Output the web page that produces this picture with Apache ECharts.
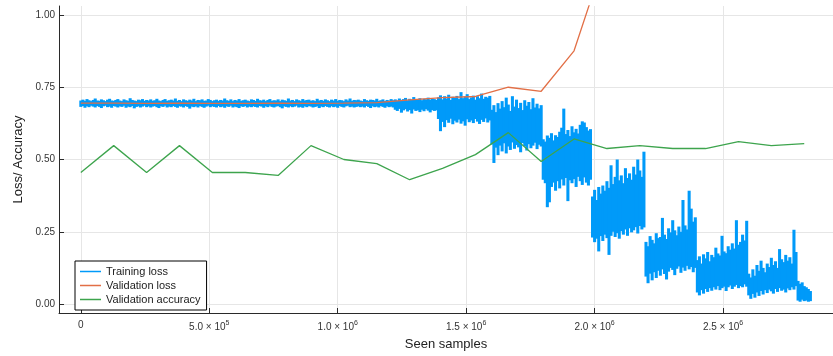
<!DOCTYPE html>
<html>
<head>
<meta charset="utf-8">
<script src="https://cdn.jsdelivr.net/npm/echarts@6/dist/echarts.min.js"></script>
<style>
  html, body { margin: 0; padding: 0; background: #fff; }
  #chart { width: 833px; height: 356px; }
</style>
</head>
<body>
<div id="chart"></div>
<script>
// training loss: min / max of the logged loss in each bucket of 8000 seen samples
const trainStep = 8000;
const trainMax = [
  // epochs 1-6
  .704,.707,.703,.709,.705,.702,.706,.711,.704,.703,.708,.705,.702,.707,.710,.704,.703,
  .706,.709,.704,.702,.708,.705,.703,.712,.706,.704,.702,.707,.705,.709,.703,.706,.704,
  .708,.703,.705,.710,.704,.702,.706,.709,.703,.705,.707,.704,.711,.703,.706,.702,.708,
  .705,.703,.707,.704,.710,.702,.706,.705,.708,.703,.704,.709,.706,.702,.705,.707,.703,
  .706,.704,.711,.705,.703,.708,.702,.706,.704,.709,.703,.705,.707,.704,.702,.708,.706,
  .703,.710,.705,.704,.707,.702,.706,.709,.703,.705,.704,.708,.702,.707,.705,.703,.711,
  .704,.706,.702,.708,.705,.703,.709,.704,.706,.707,.703,.705,.702,.710,.704,.706,.703,
  .708,.705,.702,.707,.704,.709,.703,.706,.705,.702,.708,.704,.711,.703,.706,.705,.707,
  .704,.702,.709,.705,.703,.707,.706,.704,.710,.703,.705,.708,.702,.706,.704,.709,.705,
  // epoch 7
  .708,.704,.711,.706,.709,.713,.705,.710,.707,.716,.706,.709,.712,.705,.710,.708,.714,.707,.711,.709,.706,
  // epoch 8
  .715,.722,.708,.719,.711,.724,.706,.717,.713,.720,.709,.733,.712,.718,.726,.709,.715,.721,.707,.719,
  .712,.728,.710,.717,.714,.720,
  // epoch 9
  .672,.688,.664,.695,.676,.702,.681,.714,.690,.668,.719,.683,.707,.678,.696,.671,.705,.686,.699,.674,
  .712,.680,.693,.677,.688,
  // epoch 10
  .570,.562,.583,.575,.591,.566,.584,.578,.596,.610,.676,.588,.602,.581,.615,.594,.606,.590,.620,.632,
  .628,.612,.600,.605,
  // epoch 11
  .372,.395,.360,.405,.382,.410,.392,.425,.402,.480,.415,.440,.500,.428,.445,.418,.470,.436,.452,.430,
  .475,.448,.500,.462,.440,.527,
  // epoch 12
  .215,.200,.235,.222,.210,.245,.228,.232,.298,.240,.225,.262,.248,.290,.255,.238,.268,.250,.360,.272,
  .258,.392,.330,.285,.300,
  // epoch 13
  .152,.165,.140,.172,.158,.180,.148,.170,.162,.195,.175,.168,.236,.182,.176,.200,.188,.210,.192,.290,
  .205,.215,.240,.220,.288,
  // epoch 14
  .105,.092,.120,.098,.135,.115,.150,.125,.110,.140,.128,.160,.135,.148,.125,.190,.155,.145,.170,.150,
  .162,.140,.257,.180,
  // epoch 15 (partial)
  .080,.070,.075,.062,.058,.052,.045
];
const trainMin = [
  // epochs 1-6
  .682,.685,.679,.684,.681,.686,.683,.680,.685,.682,.678,.684,.686,.681,.683,.679,.685,
  .683,.680,.684,.682,.686,.679,.683,.681,.685,.677,.682,.684,.680,.683,.686,.681,.684,
  .680,.683,.685,.681,.678,.684,.682,.686,.680,.683,.681,.685,.682,.679,.684,.683,.680,
  .685,.682,.676,.683,.681,.684,.680,.685,.682,.679,.683,.686,.681,.684,.682,.680,.685,
  .681,.683,.679,.684,.682,.686,.680,.683,.681,.678,.684,.682,.685,.680,.683,.681,.684,
  .682,.680,.685,.683,.679,.684,.681,.686,.682,.680,.683,.685,.681,.677,.684,.682,.680,
  .684,.681,.683,.686,.680,.682,.679,.684,.681,.685,.683,.680,.682,.684,.678,.683,.681,
  .685,.682,.680,.684,.681,.683,.679,.685,.682,.680,.684,.686,.681,.683,.680,.682,.684,
  .681,.683,.680,.685,.682,.678,.684,.681,.683,.680,.685,.682,.679,.684,.681,.683,.680,
  // epoch 7
  .672,.668,.675,.662,.670,.674,.666,.671,.659,.673,.668,.670,.664,.672,.667,.674,.669,.663,.671,.668,.670,
  // epoch 8
  .640,.598,.630,.612,.636,.627,.641,.622,.634,.628,.638,.624,.632,.617,.639,.629,.635,.626,.640,.631,
  .623,.637,.630,.642,.628,.635,
  // epoch 9
  .552,.488,.541,.515,.548,.528,.556,.521,.545,.533,.559,.537,.550,.542,.525,.557,.546,.531,.553,.539,
  .548,.558,.536,.551,.545,
  // epoch 10
  .430,.418,.335,.352,.405,.420,.392,.425,.400,.431,.410,.436,.356,.428,.418,.432,.405,.440,.425,.412,
  .438,.420,.410,.430,
  // epoch 11
  .230,.214,.226,.182,.235,.218,.240,.228,.170,.236,.250,.232,.245,.226,.252,.240,.258,.236,.262,.248,
  .255,.266,.244,.270,.258,.265,
  // epoch 12
  .095,.072,.105,.082,.110,.090,.115,.098,.120,.104,.085,.112,.125,.118,.100,.122,.130,.108,.126,.115,
  .132,.120,.128,.110,.125,
  // epoch 13
  .040,.030,.048,.036,.052,.042,.055,.046,.058,.050,.062,.048,.055,.060,.045,.058,.064,.052,.060,.066,
  .055,.062,.058,.068,.060,
  // epoch 14
  .030,.018,.035,.022,.040,.028,.045,.033,.048,.038,.050,.044,.036,.052,.042,.055,.046,.050,.040,.054,
  .048,.058,.050,.062,
  // epoch 15 (partial)
  .012,.008,.015,.010,.012,.008,.010
];

const evalSamples = [
  0, 128000, 256000, 384000, 512000, 640000, 768000, 896000, 1024000, 1152000, 1280000, 1408000,
  1536000, 1664000, 1792000, 1920000, 2048000, 2176000, 2304000, 2432000, 2560000, 2688000, 2816000
];
const valLoss = [
  0.695, 0.695, 0.694, 0.695, 0.694, 0.694, 0.695, 0.694, 0.695, 0.697, 0.706, 0.714,
  0.718, 0.750, 0.736, 0.876, 1.22, 1.35, 1.42, 1.55, 1.61, 1.70, 1.78
];
const valAcc = [
  0.455, 0.548, 0.455, 0.548, 0.455, 0.455, 0.445, 0.548, 0.500, 0.486, 0.430, 0.469,
  0.517, 0.593, 0.493, 0.571, 0.538, 0.548, 0.538, 0.538, 0.562, 0.548, 0.555
];
const yTicks = [0, 0.25, 0.5, 0.75, 1];
const xTicks = [0, 500000, 1000000, 1500000, 2000000, 2500000];

const FONT = '"Liberation Sans", Arial, sans-serif';
const gridColor = '#e6e6e6';
const axisColor = '#2a2a2a';
const blue = '#009af9';
const orange = '#e26f46';
const green = '#3da44d';

const chart = echarts.init(document.getElementById('chart'));

function sciLabel(v) {
  if (v === 0) return '0';
  const exp = Math.floor(Math.log10(v));
  const m = (v / Math.pow(10, exp)).toFixed(1);
  return m + ' × 10{sup|' + exp + '}';
}

// one thin column per bucket, from its min to its max
function renderBucket(params, api) {
  const x = api.value(0);
  const top = api.coord([x - trainStep / 2, api.value(2)]);
  const bottom = api.coord([x + trainStep / 2, api.value(1)]);
  return {
    type: 'rect',
    shape: {
      x: top[0] - 0.5,
      y: top[1],
      width: bottom[0] - top[0] + 1,
      height: Math.max(bottom[1] - top[1], 1.2)
    },
    style: { fill: blue }
  };
}

const lineIcon = 'rect';

const option = {
  animation: false,
  backgroundColor: '#fff',
  grid: { left: 59, top: 6, right: -7, bottom: 40 },
  legend: {
    orient: 'vertical',
    left: 75,
    top: 261,
    padding: [5, 6, 5, 5],
    itemWidth: 21,
    itemHeight: 1.5,
    itemGap: 3,
    borderColor: '#000',
    borderWidth: 1,
    backgroundColor: '#fff',
    textStyle: { fontFamily: FONT, fontSize: 11, color: '#222', lineHeight: 11 },
    data: [
      { name: 'Training loss', icon: lineIcon, itemStyle: { color: blue } },
      { name: 'Validation loss', icon: lineIcon, itemStyle: { color: orange } },
      { name: 'Validation accuracy', icon: lineIcon, itemStyle: { color: green } }
    ]
  },
  xAxis: {
    type: 'value',
    min: -85000,
    max: 2928000,
    name: 'Seen samples',
    nameLocation: 'middle',
    nameGap: 25,
    nameTextStyle: { fontFamily: FONT, fontSize: 13, color: '#222' },
    axisLine: { show: true, onZero: false, lineStyle: { color: axisColor, width: 1 } },
    axisTick: { show: true, inside: true, length: 5, customValues: xTicks, lineStyle: { color: axisColor } },
    axisLabel: {
      customValues: xTicks,
      margin: 7,
      fontFamily: FONT,
      fontSize: 10,
      color: '#333',
      formatter: sciLabel,
      rich: {
        sup: { fontSize: 7, fontFamily: FONT, color: '#333', verticalAlign: 'bottom', padding: [0, 0, 7, 0] }
      }
    },
    splitLine: { show: true, lineStyle: { color: gridColor, width: 1 } }
  },
  yAxis: {
    type: 'value',
    min: -0.031,
    max: 1.031,
    name: 'Loss/ Accuracy',
    nameLocation: 'middle',
    nameGap: 34,
    nameTextStyle: { fontFamily: FONT, fontSize: 13, color: '#222' },
    axisLine: { show: true, onZero: false, lineStyle: { color: axisColor, width: 1 } },
    axisTick: { show: true, inside: true, length: 5, customValues: yTicks, lineStyle: { color: axisColor } },
    axisLabel: {
      customValues: yTicks,
      margin: 4,
      fontFamily: FONT,
      fontSize: 10,
      color: '#333',
      formatter: v => v.toFixed(2)
    },
    splitLine: { show: true, lineStyle: { color: gridColor, width: 1 } }
  },
  series: [
    {
      name: 'Training loss',
      type: 'custom',
      renderItem: renderBucket,
      encode: { x: 0, y: [1, 2] },
      itemStyle: { color: blue },
      data: trainMin.map((lo, i) => [i * trainStep, lo, trainMax[i]])
    },
    {
      name: 'Validation loss',
      type: 'line',
      symbol: 'none',
      data: evalSamples.map((x, i) => [x, valLoss[i]]),
      lineStyle: { color: orange, width: 1.3 },
      itemStyle: { color: orange }
    },
    {
      name: 'Validation accuracy',
      type: 'line',
      symbol: 'none',
      data: evalSamples.map((x, i) => [x, valAcc[i]]),
      lineStyle: { color: green, width: 1.3 },
      itemStyle: { color: green }
    }
  ]
};

chart.setOption(option);
</script>
</body>
</html>
